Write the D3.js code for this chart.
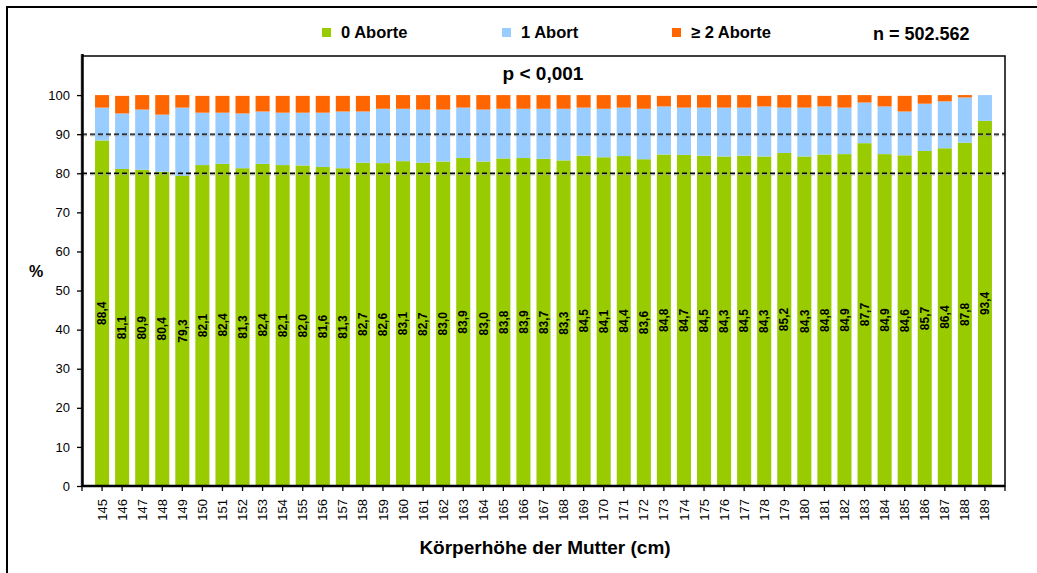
<!DOCTYPE html>
<html>
<head>
<meta charset="utf-8">
<script src="https://cdn.jsdelivr.net/npm/d3@7/dist/d3.min.js"></script>
<style>
body { margin: 0; background: #fff; }
svg { display: block; }
text { font-family: "Liberation Sans", Arial, sans-serif; fill: #000; }
</style>
</head>
<body>
<div id="chart"></div>
<script>
// Körperhöhe der Mutter (cm)
const heights = ['145', '146', '147', '148', '149', '150', '151', '152', '153', '154',
	'155', '156', '157', '158', '159', '160', '161', '162', '163', '164',
	'165', '166', '167', '168', '169', '170', '171', '172', '173', '174',
	'175', '176', '177', '178', '179', '180', '181', '182', '183', '184',
	'185', '186', '187', '188', '189'];

const zeroAborte = [88.4, 81.1, 80.9, 80.4, 79.3, 82.1, 82.4, 81.3, 82.4, 82.1,
	82.0, 81.6, 81.3, 82.7, 82.6, 83.1, 82.7, 83.0, 83.9, 83.0,
	83.8, 83.9, 83.7, 83.3, 84.5, 84.1, 84.4, 83.6, 84.8, 84.7,
	84.5, 84.3, 84.5, 84.3, 85.2, 84.3, 84.8, 84.9, 87.7, 84.9,
	84.6, 85.7, 86.4, 87.8, 93.4];

const oneAbort = [8.4, 14.2, 15.4, 14.6, 17.5, 13.4, 13.1, 14.0, 13.4, 13.4,
	13.5, 13.9, 14.5, 13.1, 13.9, 13.4, 13.6, 13.3, 12.9, 13.3,
	12.7, 12.6, 12.8, 13.2, 12.3, 12.4, 12.4, 12.9, 12.3, 12.1,
	12.3, 12.5, 12.3, 12.8, 11.6, 12.5, 12.3, 11.9, 10.4, 12.2,
	11.2, 12.1, 12.0, 11.6, 6.6];

const twoPlusAborte = [3.2, 4.5, 3.7, 5.0, 3.2, 4.3, 4.3, 4.5, 4.0, 4.3,
	4.3, 4.3, 4.0, 4.0, 3.5, 3.5, 3.7, 3.7, 3.2, 3.7,
	3.5, 3.5, 3.5, 3.5, 3.2, 3.5, 3.2, 3.5, 2.7, 3.2,
	3.2, 3.2, 3.2, 2.7, 3.2, 3.2, 2.7, 3.2, 1.9, 2.7,
	4.0, 2.2, 1.6, 0.6, 0.0];

const yTicks = [0, 10, 20, 30, 40, 50, 60, 70, 80, 90, 100];
const gridValues = [80, 90];
const seriesNames = ['0 Aborte', '1 Abort', '\u2265 2 Aborte'];
const colors = ['#99cc00', '#99ccff', '#ff6600'];

const width = 1037, height = 573;
const plotLeft = 82, plotRight = 1005, plotTop = 56, plotBottom = 486;

const svg = d3.select('#chart')
	.append('svg')
	.attr('width', width)
	.attr('height', height);

//outer frame (runs past the picture on the right and bottom)
svg.append('rect')
	.attr('x', 7).attr('y', 7)
	.attr('width', 1060).attr('height', 620)
	.attr('fill', 'none')
	.attr('stroke', '#000')
	.attr('stroke-width', 2);

var x = d3.scaleBand()
	.domain(heights)
	.range([plotLeft, plotRight])
	.paddingInner(0.3)
	.paddingOuter(0.65);

var y = d3.scaleLinear()
	.domain([0, 110])
	.range([plotBottom, plotTop]);

var keys = ['zero', 'one', 'two'];
var table = heights.map(function(h, i) {
	return { h: h, zero: zeroAborte[i], one: oneAbort[i], two: twoPlusAborte[i] };
});
var stacked = d3.stack().keys(keys)(table);

var layers = svg.append('g')
	.attr('class', 'bars')
	.selectAll('g')
	.data(stacked)
	.enter()
	.append('g')
	.attr('fill', function(d, i) { return colors[i]; });

layers.selectAll('rect')
	.data(function(d) { return d; })
	.enter()
	.append('rect')
	.attr('x', function(d) { return x(d.data.h); })
	.attr('width', x.bandwidth())
	.attr('y', function(d) { return y(d[1]); })
	.attr('height', function(d) { return y(d[0]) - y(d[1]); });

// dashed gridlines drawn over the bars
var grid = svg.append('g').attr('class', 'grid');
grid.selectAll('line.shadow')
	.data(gridValues)
	.enter()
	.append('line')
	.attr('class', 'shadow')
	.attr('x1', plotLeft).attr('x2', plotRight)
	.attr('y1', function(d) { return y(d) + 1.5; })
	.attr('y2', function(d) { return y(d) + 1.5; })
	.attr('stroke', '#999')
	.attr('stroke-width', 1)
	.attr('stroke-dasharray', '5,3');
grid.selectAll('line.main')
	.data(gridValues)
	.enter()
	.append('line')
	.attr('class', 'main')
	.attr('x1', plotLeft).attr('x2', plotRight)
	.attr('y1', function(d) { return y(d); })
	.attr('y2', function(d) { return y(d); })
	.attr('stroke', '#000')
	.attr('stroke-width', 1.3)
	.attr('stroke-dasharray', '5,3');

// value labels in the green segment
svg.append('g')
	.attr('class', 'labels')
	.selectAll('text')
	.data(stacked[0])
	.enter()
	.append('text')
	.attr('transform', function(d) {
		return 'translate(' + (x(d.data.h) + x.bandwidth() / 2) + ',' + y((d[0] + d[1]) / 2) + ') rotate(-90)';
	})
	.attr('text-anchor', 'middle')
	.attr('dy', '0.35em')
	.style('font-size', '12px')
	.style('font-weight', 'bold')
	.text(function(d) { return d3.format('.1f')(d[1] - d[0]).replace('.', ','); });

// plot frame
svg.append('rect')
	.attr('x', plotLeft).attr('y', plotTop)
	.attr('width', plotRight - plotLeft).attr('height', plotBottom - plotTop)
	.attr('fill', 'none')
	.attr('stroke', '#000')
	.attr('stroke-width', 1.5);
svg.append('line')
	.attr('x1', plotLeft - 1).attr('x2', plotLeft - 1)
	.attr('y1', plotTop - 2).attr('y2', plotBottom)
	.attr('stroke', '#aaa')
	.attr('stroke-width', 1);
svg.append('line')
	.attr('x1', plotLeft + 0.5).attr('x2', plotLeft + 0.5)
	.attr('y1', plotTop - 2).attr('y2', plotBottom + 1)
	.attr('stroke', '#000')
	.attr('stroke-width', 2.5);
svg.append('line')
	.attr('x1', plotLeft).attr('x2', plotRight)
	.attr('y1', plotBottom).attr('y2', plotBottom)
	.attr('stroke', '#000')
	.attr('stroke-width', 2.5);

// y axis
var yAxis = svg.append('g')
	.attr('transform', 'translate(' + plotLeft + ',0)')
	.call(d3.axisLeft(y).tickValues(yTicks).tickSize(5).tickPadding(7));
yAxis.select('.domain').remove();
yAxis.selectAll('.tick line').attr('stroke', '#000').attr('stroke-width', 1.3);
yAxis.selectAll('text').style('font-size', '13px').attr('fill', '#000');

// x axis
var xAxis = svg.append('g')
	.attr('transform', 'translate(0,' + plotBottom + ')')
	.call(d3.axisBottom(x).tickSize(5));
xAxis.select('.domain').remove();
xAxis.selectAll('.tick line').attr('stroke', '#000').attr('stroke-width', 1.3);
xAxis.selectAll('text')
	.attr('transform', 'rotate(-90)')
	.attr('x', -13)
	.attr('y', 0)
	.attr('dy', '0.35em')
	.style('text-anchor', 'end')
	.style('font-size', '13px')
	.attr('fill', '#000');
xAxis.selectAll('line.edge')
	.data(x.range())
	.enter()
	.append('line')
	.attr('class', 'edge')
	.attr('x1', function(d) { return d; })
	.attr('x2', function(d) { return d; })
	.attr('y1', 0).attr('y2', 5)
	.attr('stroke', '#000')
	.attr('stroke-width', 1.3);

// axis titles
svg.append('text')
	.attr('x', 545)
	.attr('y', 554)
	.attr('text-anchor', 'middle')
	.style('font-size', '19px')
	.style('font-weight', 'bold')
	.text('Körperhöhe der Mutter (cm)');

svg.append('text')
	.attr('x', 36)
	.attr('y', 277)
	.attr('text-anchor', 'middle')
	.style('font-size', '16px')
	.style('font-weight', 'bold')
	.text('%');

svg.append('text')
	.attr('x', 543)
	.attr('y', 80)
	.attr('text-anchor', 'middle')
	.style('font-size', '19px')
	.style('font-weight', 'bold')
	.text('p < 0,001');

// legend
var legendX = [322, 502, 672];
var legend = svg.append('g')
	.attr('class', 'legend')
	.selectAll('g')
	.data(seriesNames)
	.enter()
	.append('g')
	.attr('transform', function(d, i) { return 'translate(' + legendX[i] + ',28)'; });
legend.append('rect')
	.attr('width', 9).attr('height', 9)
	.attr('fill', function(d, i) { return colors[i]; });
legend.append('text')
	.attr('x', 19)
	.attr('y', 4.5)
	.attr('dy', '0.35em')
	.style('font-size', '16.5px')
	.style('font-weight', 'bold')
	.text(function(d) { return d; });

svg.append('text')
	.attr('x', 873)
	.attr('y', 40)
	.style('font-size', '18px')
	.style('font-weight', 'bold')
	.text('n = 502.562');
</script>
</body>
</html>
